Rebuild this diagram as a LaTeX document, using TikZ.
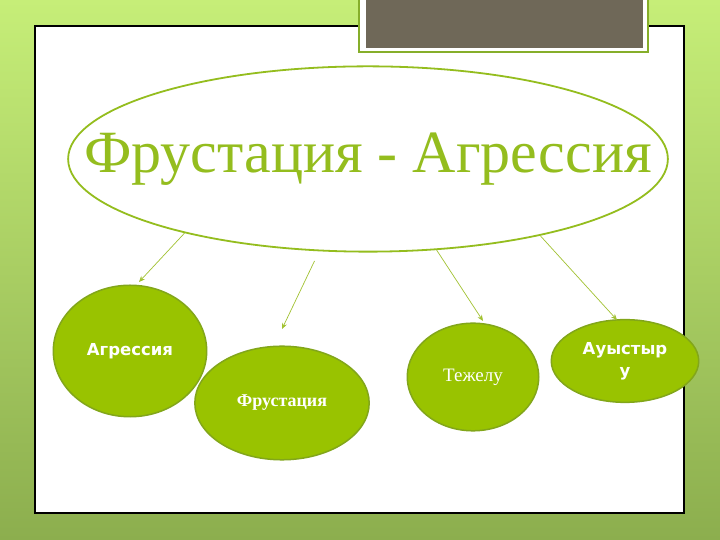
\documentclass[tikz,border=0pt]{standalone}
\usepackage{fontspec}
\setmainfont{Liberation Serif}
\newfontfamily\bubblesans{DejaVu Sans}
\usetikzlibrary{shapes.geometric,arrows.meta}
\definecolor{bgtop}{HTML}{C6EE78}
\definecolor{bgbottom}{HTML}{8CAE4E}
\definecolor{titlegreen}{HTML}{94BD1E}
\definecolor{bubblefill}{HTML}{99C300}
\definecolor{bubbleedge}{HTML}{82A61A}
\definecolor{arrowgreen}{HTML}{A2C232}
\definecolor{darkbox}{HTML}{6F6858}
\definecolor{boxedge}{HTML}{86AE2A}

\begin{document}
\begin{tikzpicture}[x=1bp,y=1bp,
    bubble/.style={ellipse,draw=bubbleedge,fill=bubblefill,line width=1.5bp,inner sep=0,text=white,align=center},
    pointer/.style={draw=arrowgreen,line width=0.7bp,-{Stealth[length=6bp,width=5bp]}}]
    \pgfmathsetmacro{\slidewidth}{720}
    \pgfmathsetmacro{\slideheight}{540}
    \useasboundingbox (0,0) rectangle (\slidewidth,\slideheight);
    % slide background and white panel
    \shade[top color=bgtop,bottom color=bgbottom] (0,0) rectangle (\slidewidth,\slideheight);
    \draw[line width=1.2bp,fill=white] (35,27) rectangle (684,514);
    % dark title box at the top
    \draw[line width=2bp,draw=boxedge,fill=white] (359,488) rectangle (648,546);
    \fill[darkbox] (366,492) rectangle (643,546);
    % main ellipse
    \node[ellipse,draw=titlegreen,line width=1.8bp,minimum width=602,minimum height=186,inner sep=0]
        (title) at (368,381) {};
    \node[anchor=base,text=titlegreen,inner sep=0,font=\fontsize{60bp}{70bp}\selectfont]
        (titletext) at (368,367) {Фрустация - Агрессия};
    % bubbles
    \node[bubble,minimum width=154,minimum height=132,font=\bubblesans\bfseries\fontsize{16.5bp}{20bp}\selectfont]
        (aggr) at (130,189) {Агрессия};
    \node[bubble,minimum width=175,minimum height=114,font=\bfseries\fontsize{18bp}{20bp}\selectfont]
        (frust) at (282,137) {Фрустация};
    \node[bubble,minimum width=132,minimum height=108,font=\fontsize{19bp}{20bp}\selectfont]
        (tezh) at (473,163) {Тежелу};
    \node[bubble,minimum width=148,minimum height=83,font=\bubblesans\bfseries\fontsize{16.5bp}{22bp}\selectfont]
        (auys) at (625,179) {Ауыстыр\\у};
    % arrow ends
    \coordinate (tipAggr) at (139,258);
    \coordinate (tailFrust) at (314.5,279);
    \coordinate (tipFrust) at (282,211);
    \coordinate (tipTezh) at (483,219);
    \coordinate (tipAuys) at (617,220);
    \draw[pointer] (title.202) -- (tipAggr);
    \draw[pointer] (tailFrust) -- (tipFrust);
    \draw[pointer] (title.307) -- (tipTezh);
    \draw[pointer] (title.336) -- (tipAuys);
\end{tikzpicture}
\end{document}
